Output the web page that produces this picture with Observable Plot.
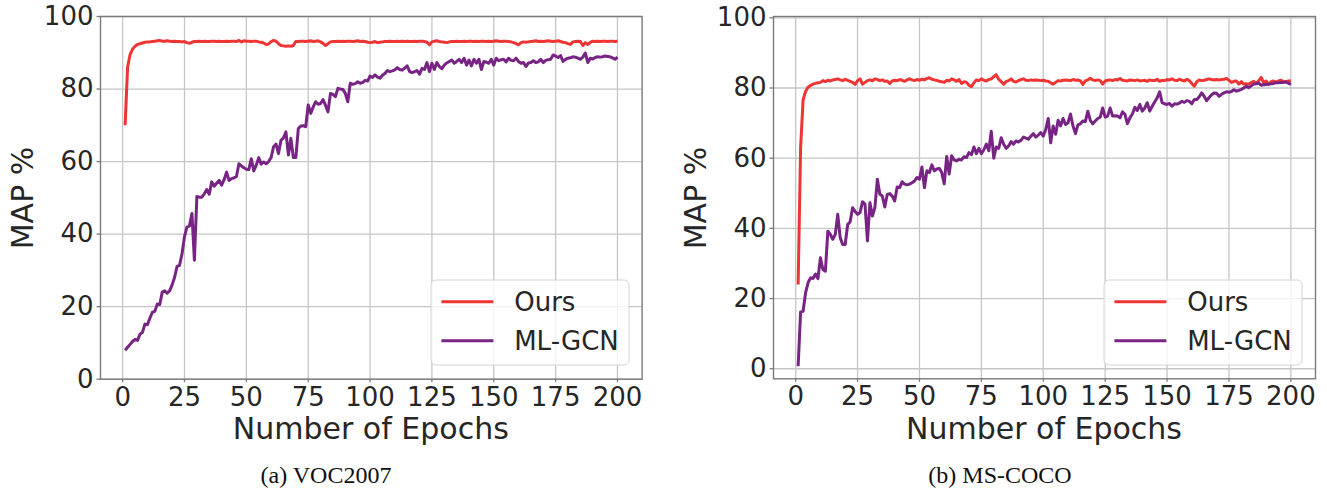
<!DOCTYPE html>
<html>
<head>
<meta charset="utf-8">
<script src="https://cdn.jsdelivr.net/npm/d3@7"></script>
<script src="https://cdn.jsdelivr.net/npm/@observablehq/plot@0.6"></script>
<style>
  html, body { margin: 0; padding: 0; background: #fff; }
  #root { position: relative; width: 1327px; height: 489px; overflow: hidden; font-family: "DejaVu Sans", sans-serif; }
  .panel { position: absolute; top: 0; }
  .lab { position: absolute; font-family: "DejaVu Sans", sans-serif; font-size: 30px; color: #262626; white-space: nowrap; line-height: 22px; height: 22px; }
  .cap { position: absolute; font-family: "Liberation Serif", "Times New Roman", serif; font-size: 24px; color: #111; white-space: pre; line-height: 1; }
  .legend { position: absolute; }
</style>
</head>
<body>
<div id="root"></div>
<script>
// ---- data ----
const seriesNames = ["Ours", "ML-GCN"];
const seriesColors = ["#ef3434", "#782484"];
const xTicks = [0, 25, 50, 75, 100, 125, 150, 175, 200];
const yTicks = [0, 20, 40, 60, 80, 100];
const captions = ["(a) VOC2007", "(b) MS-COCO"];
const xLabel = "Number of Epochs";
const yLabel = "MAP %";

const vocOurs = [
  70, 86, 89.5, 91, 91.8, 92.3, 92.5, 92.7, 92.9, 93,
  93, 93.1, 93.2, 93.3, 93.4, 93.2, 93.2, 93.3, 93.2, 93.1,
  93.2, 93.1, 93.1, 93, 93.1, 92.8, 92.6, 92.9, 93.1, 93.1,
  93.2, 93.1, 93.2, 93.1, 93.1, 93.2, 93.2, 93.1, 93.2, 93.1,
  93.1, 93.2, 93.1, 93.2, 93.2, 93.1, 93.4, 93, 93.3, 93.2,
  93.2, 93.1, 93.2, 93.2, 93, 92.9, 92.7, 92.3, 92.4, 93.1,
  93.4, 93.2, 92.5, 92, 91.9, 91.8, 91.9, 91.8, 92, 93.1,
  93.1, 93.2, 93.2, 93.1, 93.2, 93.3, 93.1, 93.2, 93.3, 93,
  92.6, 92, 92.5, 93, 93.1, 93.1, 93.2, 93.1, 93.2, 93.1,
  93.2, 93.2, 93.1, 93.2, 93.3, 93.1, 93.2, 93.1, 92.9, 92.8,
  92.9, 93.1, 92.8, 92.9, 93, 93.1, 93.1, 93.2, 93.1, 93.1,
  93.2, 93.1, 93.2, 93.1, 93.2, 93.1, 93.1, 93.2, 93.1, 93.2,
  93.2, 93.1, 92.9, 92.2, 93, 93.2, 93.3, 93.1, 93, 92.9,
  92.8, 93, 93.1, 93.1, 93.2, 93.1, 93.1, 93.2, 93.1, 93.2,
  93.2, 93.1, 93.2, 93.1, 93.2, 93.2, 93.1, 93.2, 93.1, 93.2,
  93.3, 93.2, 93.1, 93.2, 93.2, 93.1, 93, 92.8, 92.5, 92.2,
  92.8, 93, 92.9, 93, 93.1, 93.2, 93.3, 93.1, 93.2, 93.1,
  93.2, 93.3, 93.2, 93.1, 93.2, 93.3, 93.1, 92.9, 92.8, 92.5,
  92.3, 93, 93.1, 93.2, 93.1, 92, 92.8, 92.3, 92.9, 93.2,
  93.1, 93.2, 93.1, 93.2, 93.2, 93.1, 93.2, 93.2, 93.1, 93.2
];
const vocMLGCN = [
  8, 8.8, 9.6, 10.4, 11, 10.7, 12.4, 12.9, 15.2, 15,
  16.8, 18.4, 18.7, 20.7, 20.6, 24, 24.4, 23.7, 24.4, 26,
  28.1, 31.1, 31.4, 34.6, 39.3, 42, 42.2, 45.7, 32.8, 50.4,
  50.2, 50.2, 51.1, 52.3, 51, 54.4, 53.2, 54, 54.8, 53.5,
  55, 57.1, 54.8, 55.3, 55.5, 55.9, 59.4, 58.8, 58.3, 57.9,
  57.8, 60.8, 57.4, 59, 61.1, 59.3, 59.9, 59.4, 60, 61.1,
  64.1, 64.8, 62.2, 65.9, 66.5, 68.2, 61.8, 66.4, 61.1, 61.1,
  69.1, 69.8, 69.9, 69.6, 75.6, 73.3, 75, 76.5, 75.8, 76,
  77.1, 75.5, 73.7, 78.8, 78.5, 77.9, 80.2, 80, 79.9, 78.8,
  76.5, 81.6, 81.3, 81.5, 82, 81.6, 81.8, 82.4, 82.2, 83.6,
  83.2, 83.9, 83.3, 83, 83.8, 84.3, 85.1, 84.8, 85, 85.3,
  85.9, 85.4, 85.2, 85.8, 86.4, 84.8, 84.5, 84.8, 85.1, 84.1,
  85.7, 85.4, 87.3, 84.8, 87.1, 85.4, 87.3, 86.2, 85.6, 86.6,
  87.2, 87.6, 88, 87.1, 87.6, 88.2, 87.3, 88.5, 86.6, 88,
  86.4, 88.2, 87.1, 88.2, 85.4, 87.6, 87.4, 87.1, 88.2, 86.6,
  88.5, 87.8, 88.1, 88.2, 87.5, 88.5, 87.9, 87.8, 88.5, 87.6,
  87.1, 87.3, 86.2, 87.2, 87.3, 87.8, 87.3, 87.5, 88.2, 87.3,
  87.9, 88.1, 88.2, 89.4, 89.1, 88.7, 89.2, 87.6, 88.2, 88.5,
  88.6, 88.9, 88.8, 88.5, 88.2, 88.8, 89.9, 87.3, 88.5, 88.3,
  88.7, 88.9, 88.8, 88.9, 89.1, 89, 88.9, 88.6, 88.2, 88.8
];
const cocoOurs = [
  24, 63, 76.6, 79, 80.2, 80.7, 81.1, 81.3, 81.5, 81.6,
  82.1, 81.8, 82.2, 82, 82.3, 82.4, 82.6, 82.3, 82.1, 82.5,
  82.2, 81.9, 81.6, 81, 82.1, 82.6, 81.1, 81.6, 82.1, 82.3,
  82, 82.6, 82.4, 82.1, 82.3, 81.9, 82, 81.3, 82, 82.2,
  82.1, 82.4, 82.2, 81.9, 82.3, 82.6, 82.3, 82.1, 82.4, 82.2,
  82.5, 82.3, 82.7, 82.9, 82.5, 82.3, 82.2, 81.9, 81.8, 81.6,
  82.2, 82, 82.6, 82.3, 81.9, 82.4, 81.3, 81.8, 81.6, 80.8,
  80.4, 81.5, 82.3, 82.1, 82.6, 82.2, 82, 82.4, 82.6, 83.2,
  83.8, 82.5, 81.8, 81.1, 81.8, 82.1, 82.6, 81.9, 81.7, 82.1,
  82.4, 82.6, 82.2, 82.1, 82.3, 82.2, 82.3, 82.2, 82.1, 82.2,
  82, 81.9, 81.5, 81.1, 81.6, 82.1, 82, 82.2, 82.3, 82.2,
  82.1, 82.4, 82.2, 82.3, 82, 81, 82, 82.3, 82.8, 82.3,
  82.1, 82.3, 82.1, 81.1, 82, 82.2, 82.3, 82.1, 82.4, 82.3,
  82.7, 82.2, 82.1, 82, 82.3, 82.2, 82.1, 82.3, 82, 82.1,
  82.2, 81.9, 82.3, 82.1, 82.1, 82.5, 81.9, 82.2, 82.1, 82.4,
  82.3, 82.6, 82.2, 82.1, 82.5, 82.2, 82, 82.5, 82.1, 81.3,
  80.5, 81.8, 82.3, 82.1, 82.2, 82.4, 82.6, 82.4, 82.3, 82.4,
  82.3, 82.4, 82.5, 82.7, 82.2, 81.6, 81.9, 82, 81.1, 81.8,
  81.1, 81.2, 81.1, 81.6, 81.9, 81.3, 82.1, 83, 81.5, 82,
  81, 81.8, 82, 81.6, 82, 82.2, 81.9, 81.8, 82, 82.1
];
const cocoMLGCN = [
  0.7, 16.2, 16.4, 21.6, 24.5, 25.9, 25.7, 27, 25.7, 31.6,
  28.3, 27.8, 39.2, 38.3, 36.9, 38.3, 44, 37.3, 35.4, 35.4,
  41.1, 41.9, 45.9, 44.8, 44, 44.5, 47.6, 46.9, 36.4, 47.3,
  43.5, 45.9, 54, 49.7, 49.2, 46.1, 49.7, 49.9, 49.2, 47.8,
  51.8, 51.6, 53.3, 52.6, 52.4, 52.6, 53, 53.5, 54.5, 54,
  57.5, 51.6, 56.4, 55.9, 58.1, 56.4, 56.9, 57.1, 55.9, 52.7,
  60.5, 55.5, 60.7, 59.5, 59.2, 59.7, 59.5, 60.4, 60.2, 61.6,
  61, 63.2, 61.3, 62.8, 61.3, 62.4, 64, 62.1, 67.7, 60,
  63.2, 62.8, 65.8, 64, 62.8, 63.5, 64.7, 64, 64.9, 64.6,
  65.1, 66, 65.7, 65.4, 66.3, 67, 66, 66.6, 67.3, 66.3,
  68.2, 71.3, 64.4, 69.2, 66.8, 70.8, 69.2, 71.3, 69.6, 70.1,
  72.6, 69.2, 67, 69.5, 69.8, 70.6, 70.4, 73.4, 70.8, 69.8,
  70.6, 71.3, 71.7, 74.3, 71.7, 72, 74.3, 72, 72.1, 72,
  71.5, 73.2, 72.5, 69.8, 71.5, 72.6, 74.5, 73.6, 75.3, 73.4,
  74.3, 75.8, 73.4, 74.8, 76, 77.2, 78.9, 75.8, 75.5, 75.3,
  75.6, 74.8, 75.5, 75.4, 75.7, 76.2, 75.9, 76.4, 76.2, 75.5,
  76.7, 76.7, 77.5, 78.6, 77.6, 76.4, 77.3, 78.1, 78.6, 78.5,
  77.6, 78.2, 78.6, 78.9, 78.8, 79, 79.5, 79.1, 79.3, 79.6,
  80, 80.5, 80.1, 80.6, 81.1, 81.2, 81.4, 80.8, 80.9, 81,
  81.1, 81.2, 81.3, 81.5, 81.5, 81.6, 81.6, 81.7, 81.4, 81
];

// ---- build ----
const root = document.getElementById("root");
const toRows = arr => arr.map((v, i) => ({epoch: i + 1, value: v}));

function panel(cfg) {
  const chart = Plot.plot({
    width: cfg.width,
    height: 445,
    marginLeft: cfg.marginLeft,
    marginRight: cfg.marginRight,
    marginTop: 16,
    marginBottom: cfg.marginBottom,
    x: {domain: [-8.95, 209.95]},
    y: {domain: cfg.yDomain},
    style: {fontFamily: "DejaVu Sans", fontSize: "26px", color: "#262626", background: "transparent", overflow: "visible"},
    marks: [
      Plot.gridX(xTicks, {stroke: "#c6c6c6", strokeOpacity: 1, strokeWidth: 1.3}),
      Plot.gridY(yTicks, {stroke: "#c6c6c6", strokeOpacity: 1, strokeWidth: 1.3}),
      Plot.line(toRows(cfg.ours), {x: "epoch", y: "value", stroke: seriesColors[0], strokeWidth: 3, strokeLinejoin: "round", strokeLinecap: "butt"}),
      Plot.line(toRows(cfg.ml), {x: "epoch", y: "value", stroke: seriesColors[1], strokeWidth: 3, strokeLinejoin: "round", strokeLinecap: "butt"}),
      Plot.frame({stroke: "#7a7a7a", strokeWidth: 1.4}),
      Plot.axisX(xTicks, {tickSize: 3.5, tickPadding: 4.5, stroke: "#7a7a7a", strokeWidth: 1.3, fill: "#262626", label: null, tickFormat: d => String(d)}),
      Plot.axisY(yTicks, {tickSize: 3.5, tickPadding: 3.5, stroke: "#7a7a7a", strokeWidth: 1.3, fill: "#262626", label: null, tickFormat: d => String(d)})
    ]
  });
  chart.classList.add("panel");
  chart.style.left = cfg.left + "px";
  root.appendChild(chart);

  // axis labels
  const xl = document.createElement("div");
  xl.className = "lab";
  xl.textContent = xLabel;
  xl.style.left = cfg.xLabelCenter + "px";
  xl.style.top = "418px";
  xl.style.transform = "translateX(-50%)";
  root.appendChild(xl);

  const yl = document.createElement("div");
  yl.className = "lab";
  yl.textContent = yLabel;
  yl.style.left = cfg.yLabelCenter + "px";
  yl.style.top = "197.5px";
  yl.style.transform = "translate(-50%, -50%) rotate(-90deg)";
  root.appendChild(yl);

  // caption
  const cp = document.createElement("div");
  cp.className = "cap";
  cp.textContent = cfg.caption;
  cp.style.left = cfg.captionCenter + "px";
  cp.style.top = "463px";
  cp.style.transform = "translateX(-50%)";
  root.appendChild(cp);

  // legend (matplotlib-like box, fontsize 26)
  const fs = 26, W = 198, H = 85;
  const lg = d3.create("svg")
    .attr("class", "legend")
    .attr("width", W + 2).attr("height", H + 2)
    .style("left", (cfg.legendRight - W - 1) + "px").style("top", "279px");
  lg.append("rect").attr("x", 1).attr("y", 1).attr("width", W).attr("height", H)
    .attr("rx", 5).attr("fill", "rgba(255,255,255,0.8)").attr("stroke", "#d4d4d4").attr("stroke-width", 1);
  seriesNames.forEach((name, i) => {
    const yy = 1 + 21.7 + i * 39;
    const x0 = 1 + 0.4 * fs, x1 = x0 + 2 * fs;
    lg.append("line").attr("x1", x0).attr("x2", x1).attr("y1", yy).attr("y2", yy)
      .attr("stroke", seriesColors[i]).attr("stroke-width", 3);
    lg.append("text").attr("x", x1 + 0.8 * fs).attr("y", yy + 9.5)
      .attr("font-family", "DejaVu Sans").attr("font-size", fs).attr("fill", "#262626").text(name);
  });
  root.appendChild(lg.node());
}

panel({left: 0, width: 650, marginLeft: 100, marginRight: 8.4, marginBottom: 66.3,
  yDomain: [0, 100], ours: vocOurs, ml: vocMLGCN,
  xLabelCenter: 370.8, yLabelCenter: 23, caption: captions[0], captionCenter: 326,
  legendRight: 628.5});
panel({left: 670, width: 657, marginLeft: 103, marginRight: 12, marginBottom: 66.7,
  yDomain: [-2.86, 100.37], ours: cocoOurs, ml: cocoMLGCN,
  xLabelCenter: 1044, yLabelCenter: 696, caption: captions[1], captionCenter: 1000,
  legendRight: 1302});
</script>
</body>
</html>
